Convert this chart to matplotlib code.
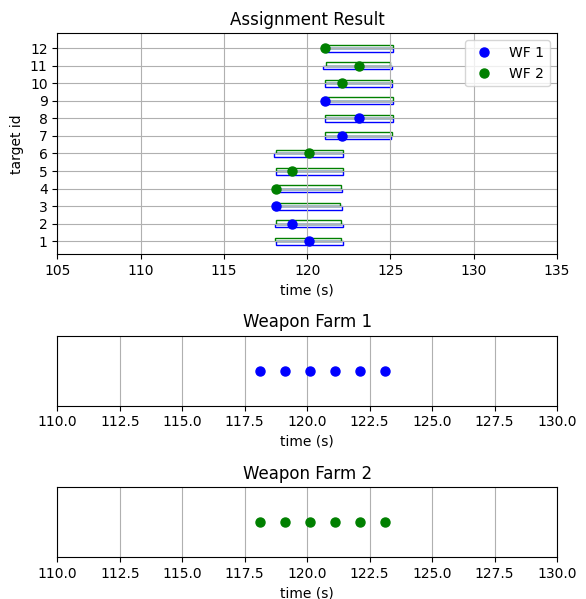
import numpy as np
from matplotlib import pyplot as plt

"""Data"""
target_ids = np.arange(1, 13)
wf1_start = [118.1, 118.05, 118.05, 118.05, 118.15, 118.0, 121.05, 121.1, 121.05, 121.05, 120.95, 121.05]
wf1_end = [122.15, 122.15, 122.1, 122.1, 122.15, 122.15, 125.05, 125.15, 125.15, 125.1, 125.1, 125.15]
wf2_start = [118.05, 118.15, 118.1, 118.15, 118.15, 118.15, 121.05, 121.1, 121.0, 121.1, 121.15, 121.05]
wf2_end = [122.05, 122.05, 122.0, 122.05, 122.15, 122.15, 125.1, 125.15, 125.15, 125.1, 125.0, 125.15]

wf1_targets = [1, 2, 3, 7, 8, 9]
wf1_times = [120.1, 119.1, 118.1, 122.1, 123.1, 121.1]
wf2_targets = [4, 5, 6, 10, 11, 12]
wf2_times = [118.1, 119.1, 120.1, 122.1, 123.1, 121.1]

wf1_shots = [118.1, 119.1, 120.1, 121.1, 122.1, 123.1]
wf2_shots = [118.1, 119.1, 120.1, 121.1, 122.1, 123.1]

fig = plt.figure(figsize=(5.86, 5.99), dpi=100)

"""Assignment Result"""
ax0 = fig.add_axes([0.0978, 0.576, 0.8527, 0.3681])
ax0.set_title("Assignment Result")
w1 = np.array(wf1_end) - np.array(wf1_start)
w2 = np.array(wf2_end) - np.array(wf2_start)
ax0.barh(target_ids, w1, left=wf1_start, height=-0.2, align='edge',
         fill=False, edgecolor='b', linewidth=1)
ax0.barh(target_ids, w2, left=wf2_start, height=0.2, align='edge',
         fill=False, edgecolor='g', linewidth=1)
ax0.plot(wf1_times, wf1_targets, 'bo', ms=6.5, label='WF 1')
ax0.plot(wf2_times, wf2_targets, 'go', ms=6.5, label='WF 2')
ax0.set_xlim(105, 135)
ax0.set_ylim(0.28, 12.83)
ax0.set_yticks(target_ids)
ax0.set_xlabel("time (s)")
ax0.set_ylabel("target id")
ax0.grid(True)
ax0.legend(loc='upper right')

"""Weapon Farm 1"""
ax1 = fig.add_axes([0.0978, 0.3227, 0.8527, 0.1169])
ax1.set_title("Weapon Farm 1")
ax1.plot(wf1_shots, np.zeros(len(wf1_shots)), 'bo', ms=6.5)
ax1.set_xlim(110, 130)
ax1.set_ylim(-1, 1)
ax1.set_yticks([])
ax1.set_xlabel("time (s)")
ax1.grid(True)

"""Weapon Farm 2"""
ax2 = fig.add_axes([0.0978, 0.0701, 0.8527, 0.1169])
ax2.set_title("Weapon Farm 2")
ax2.plot(wf2_shots, np.zeros(len(wf2_shots)), 'go', ms=6.5)
ax2.set_xlim(110, 130)
ax2.set_ylim(-1, 1)
ax2.set_yticks([])
ax2.set_xlabel("time (s)")
ax2.grid(True)

fig.savefig('out.png', dpi=100)
